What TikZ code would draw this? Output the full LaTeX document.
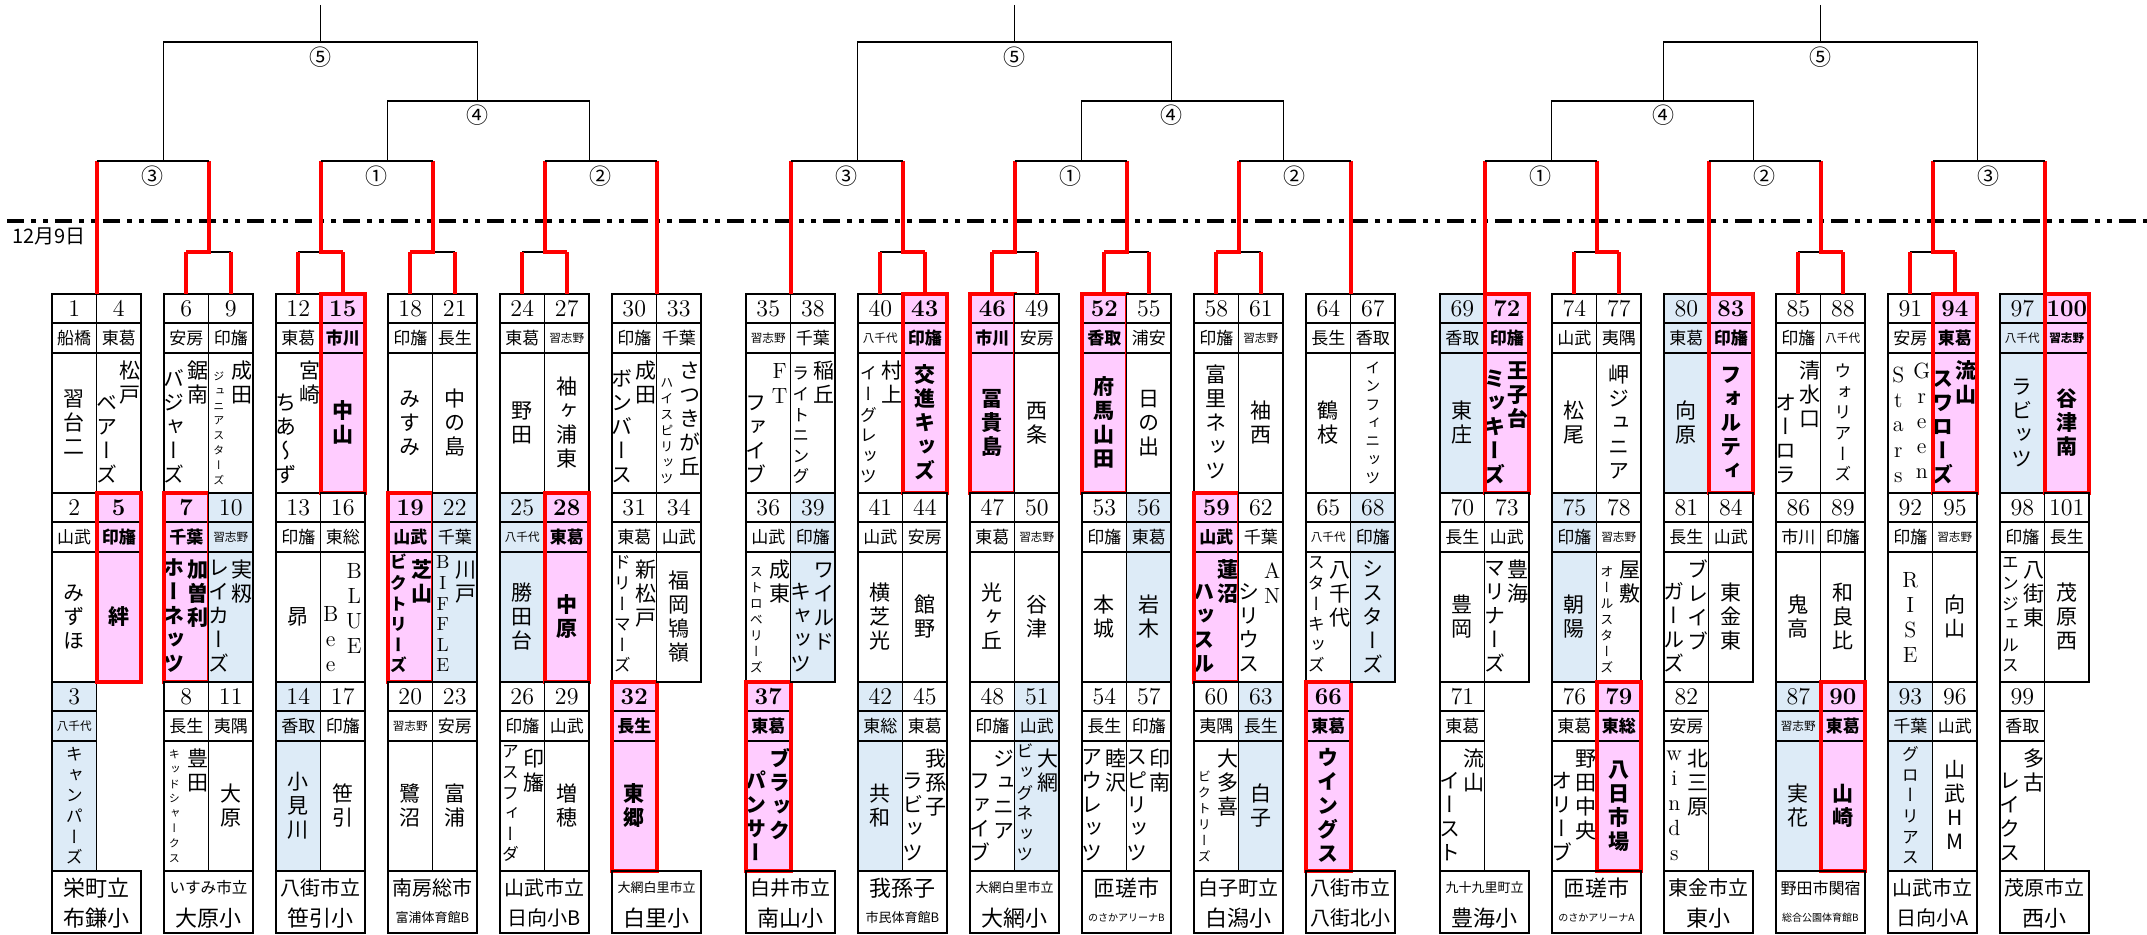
\documentclass[tikz,border=0pt]{standalone}
\usepackage{fontspec}
\usepackage{tikz}
\usetikzlibrary{positioning}
\newfontfamily\cjk{Noto Sans CJK JP}
\newfontfamily\tatefont[RawFeature=+vert]{Noto Sans CJK JP}
\definecolor{pinkcell}{RGB}{255,204,255}
\definecolor{bluecell}{RGB}{221,235,247}

% vertical writing: one character per line
\newdimen\tatepitch
\def\tatebf{}
\def\tzN{\fontsize{10.5}{12}\tatefont\tatepitch=12pt}
\def\tzM{\fontsize{8.5}{10}\tatefont\tatepitch=10.3pt}
\def\tzR{\fontsize{7.5}{9}\tatefont\tatepitch=9.2pt}
\def\tzS{\fontsize{6.5}{8}\tatefont\tatepitch=8pt}
\def\tzT{\fontsize{5.5}{7}\tatefont\tatepitch=7.4pt}
\def\tzL{\fontsize{11}{12}\rmfamily\tatepitch=12.5pt}
\def\tzK{\fontsize{9.5}{10}\rmfamily\tatepitch=10.3pt}
\def\tateaux#1{\ifx\relax#1\else
  \hbox to 1em{\vrule width 0pt height .8\tatepitch depth .2\tatepitch\hss\smash{#1}\hss}%
  \expandafter\tateaux\fi}
\newcommand\tate[2]{\vbox{\csname tz#1\endcsname\tatebf\offinterlineskip\tateaux#2\relax}}

% league columns
\newcommand\setcol[1]{\def\coll{#1}\pgfmathsetmacro\colr{#1+44.5}}
\newcommand\smreg[1]{{\fontsize{5.8}{6}\selectfont #1}}
\newcommand\team[6]{%
  \edef\teamx{\csname col#1\endcsname}%
  \def\cur{#3}%
  \ifcase#2\or\def\teamy{294}\def\teamh{70pt}\or\def\teamy{493}\def\teamh{65pt}\else\def\teamy{682}\def\teamh{65pt}\fi
  \if p#6\def\tatebf{\bfseries}\else\def\tatebf{}\fi
  \node[numcell, cell#6] (n#3) at (\teamx,\teamy) {#3};
  \node[regcell, cell#6, below=0pt of n#3] (r#3) {#4};
  \node[namecell, cell#6, minimum height=\teamh, below=0pt of r#3] (nm#3) {};
  #5%
  \if p#6\draw[winbox] (n#3.north west) rectangle (nm#3.south east);\fi
}
\newcommand\onecol[2]{\node[tt] (a\cur) at (nm\cur.center) {\tate{#1}{#2}};}
\newcommand\twocol[4]{%
  \node[tt, anchor=north] (a\cur) at ([xshift=5.75pt, yshift=-3pt]nm\cur.north) {\tate{#1}{#2}};
  \node[tt, anchor=south] (b\cur) at ([xshift=-6pt, yshift=3pt]nm\cur.south) {\tate{#3}{#4}};}
\newcommand\venue[5]{%
  \node[venuecell] (v#1) at (\coll,871) {};
  \node[vtext, font=\cjk\fontsize{#2}{#2}\selectfont] (v#1a) at ([yshift=-8.5pt]v#1.north) {#3};
  \node[vtext, font=\cjk\fontsize{#4}{#4}\selectfont] (v#1b) at ([yshift=-23.5pt]v#1.north) {#5};}

% bracket pieces
\newcommand\solo[1]{\draw[redleg] (n#1.north east) -- (n#1.north east |- lvA);}
\newcommand\duo[3]{%
  \draw[brk] (n#1.north |- lvB) -- (n#2.north |- lvB);
  \draw[redleg] (n#1.north) -- (n#1.north |- lvB);
  \draw[redleg] (n#2.north) -- (n#2.north |- lvB);
  \draw[redleg] (n#3.north |- lvB) -- (n#1.north east |- lvB) -- (n#1.north east |- lvA);}
\newcommand\rnd[2]{\draw[brk] (n#1.north east |- lvA) -- (n#2.north east |- lvA);}

\begin{document}
\begin{tikzpicture}[x=0.5pt, y=-0.5pt,
    numcell/.style={draw, line width=0.7pt, minimum width=22.25pt, minimum height=14.5pt, inner sep=0pt, outer sep=0pt, anchor=north west, font=\fontsize{12}{12}\selectfont},
    regcell/.style={draw, line width=0.7pt, minimum width=22.25pt, minimum height=15pt, inner sep=0pt, outer sep=0pt, font=\cjk\fontsize{8.5}{9}\selectfont},
    namecell/.style={draw, line width=0.7pt, minimum width=22.25pt, inner sep=0pt, outer sep=0pt},
    cellw/.style={fill=white},
    cellb/.style={fill=bluecell},
    cellp/.style={fill=pinkcell, execute at begin node=\bfseries},
    tt/.style={inner sep=0pt, outer sep=0pt},
    winbox/.style={draw=red, line width=2pt},
    redleg/.style={draw=red, line width=2pt},
    brk/.style={draw=black, line width=0.8pt},
    circ/.style={inner sep=0pt, font=\cjk\fontsize{11}{11}\selectfont},
    venuecell/.style={draw, line width=0.7pt, minimum width=44.5pt, minimum height=31pt, inner sep=0pt, outer sep=0pt, anchor=north west},
    vtext/.style={inner sep=0pt},
    dashline/.style={line width=2pt, dash pattern=on 8.5pt off 3.5pt on 2.5pt off 3.5pt on 2.5pt off 3.5pt},
    datelbl/.style={inner sep=0pt, font=\cjk\fontsize{10}{10}\selectfont}
  ]
  \path[fill=white, use as bounding box] (0,0) rectangle (2147,935);

  % date line
  \coordinate (dl0) at (7,221);
  \coordinate (dl1) at (2147,221);
  \draw[dashline] (dl0) -- (dl1);
  \node[datelbl, anchor=west] (date) at (12,236) {12月9日};

  % ---- block 1 ----
  \setcol{52}
  \team{l}{1}{1}{船橋}{\onecol{N}{習台二}}{w}
  \team{l}{2}{2}{山武}{\onecol{N}{みずほ}}{w}
  \team{l}{3}{3}{\smreg{八千代}}{\onecol{M}{キャンパーズ}}{b}
  \team{r}{1}{4}{東葛}{\twocol{N}{松戸}{N}{ベアーズ}}{w}
  \team{r}{2}{5}{印旛}{\onecol{N}{絆}}{p}
  \venue{1}{11}{栄町立}{11}{布鎌小}

  \setcol{164}
  \team{l}{1}{6}{安房}{\twocol{N}{鋸南}{N}{バジャーズ}}{w}
  \team{l}{2}{7}{千葉}{\twocol{N}{加曽利}{N}{ホーネッツ}}{p}
  \team{l}{3}{8}{長生}{\twocol{N}{豊田}{T}{キッドシャークス}}{w}
  \team{r}{1}{9}{印旛}{\twocol{N}{成田}{T}{ジュニアスターズ}}{w}
  \team{r}{2}{10}{\smreg{習志野}}{\twocol{N}{実籾}{N}{レイカーズ}}{b}
  \team{r}{3}{11}{夷隅}{\onecol{N}{大原}}{w}
  \venue{2}{7.8}{いすみ市立}{11}{大原小}

  \setcol{276}
  \team{l}{1}{12}{東葛}{\twocol{N}{宮崎}{N}{ちあ～ず}}{w}
  \team{l}{2}{13}{印旛}{\onecol{N}{昴}}{w}
  \team{l}{3}{14}{香取}{\onecol{N}{小見川}}{b}
  \team{r}{1}{15}{市川}{\onecol{N}{中山}}{p}
  \team{r}{2}{16}{東総}{\twocol{L}{BLUE}{L}{Bee}}{w}
  \team{r}{3}{17}{印旛}{\onecol{N}{笹引}}{w}
  \venue{3}{10}{八街市立}{11}{笹引小}

  \setcol{388}
  \team{l}{1}{18}{印旛}{\onecol{N}{みすみ}}{w}
  \team{l}{2}{19}{山武}{\twocol{N}{芝山}{M}{ビクトリーズ}}{p}
  \team{l}{3}{20}{\smreg{習志野}}{\onecol{N}{鷺沼}}{w}
  \team{r}{1}{21}{長生}{\onecol{N}{中の島}}{w}
  \team{r}{2}{22}{千葉}{\twocol{N}{川戸}{K}{BIFFLE}}{b}
  \team{r}{3}{23}{安房}{\onecol{N}{富浦}}{w}
  \venue{4}{10}{南房総市}{6.5}{富浦体育館B}

  \setcol{500}
  \team{l}{1}{24}{東葛}{\onecol{N}{野田}}{w}
  \team{l}{2}{25}{\smreg{八千代}}{\onecol{N}{勝田台}}{b}
  \team{l}{3}{26}{印旛}{\twocol{N}{印旛}{M}{アスフィーダ}}{w}
  \team{r}{1}{27}{\smreg{習志野}}{\onecol{N}{袖ヶ浦東}}{w}
  \team{r}{2}{28}{東葛}{\onecol{N}{中原}}{p}
  \team{r}{3}{29}{山武}{\onecol{N}{増穂}}{w}
  \venue{5}{10}{山武市立}{10}{日向小B}

  \setcol{612}
  \team{l}{1}{30}{印旛}{\twocol{N}{成田}{N}{ボンバース}}{w}
  \team{l}{2}{31}{東葛}{\twocol{N}{新松戸}{M}{ドリーマーズ}}{w}
  \team{l}{3}{32}{長生}{\onecol{N}{東郷}}{p}
  \team{r}{1}{33}{千葉}{\twocol{N}{さつきが丘}{S}{ハイスピリッツ}}{w}
  \team{r}{2}{34}{山武}{\onecol{N}{福岡鴇嶺}}{w}
  \venue{6}{6.5}{大網白里市立}{11}{白里小}

  % ---- block 2 ----
  \setcol{746}
  \team{l}{1}{35}{\smreg{習志野}}{\twocol{L}{FT}{N}{ファイブ}}{w}
  \team{l}{2}{36}{山武}{\twocol{N}{成東}{S}{ストロベリーズ}}{w}
  \team{l}{3}{37}{東葛}{\twocol{N}{ブラック}{N}{パンサー}}{p}
  \team{r}{1}{38}{千葉}{\twocol{N}{稲丘}{M}{ライトニング}}{w}
  \team{r}{2}{39}{印旛}{\twocol{N}{ワイルド}{N}{キャッツ}}{b}
  \venue{7}{10}{白井市立}{11}{南山小}

  \setcol{858}
  \team{l}{1}{40}{\smreg{八千代}}{\twocol{N}{村上}{M}{イーグレッツ}}{w}
  \team{l}{2}{41}{山武}{\onecol{N}{横芝光}}{w}
  \team{l}{3}{42}{東総}{\onecol{N}{共和}}{b}
  \team{r}{1}{43}{印旛}{\onecol{N}{交進キッズ}}{p}
  \team{r}{2}{44}{安房}{\onecol{N}{館野}}{w}
  \team{r}{3}{45}{東葛}{\twocol{N}{我孫子}{N}{ラビッツ}}{w}
  \venue{8}{11}{我孫子}{6.5}{市民体育館B}

  \setcol{970}
  \team{l}{1}{46}{市川}{\onecol{N}{冨貴島}}{p}
  \team{l}{2}{47}{東葛}{\onecol{N}{光ヶ丘}}{w}
  \team{l}{3}{48}{印旛}{\twocol{N}{ジュニア}{N}{ファイブ}}{w}
  \team{r}{1}{49}{安房}{\onecol{N}{西条}}{w}
  \team{r}{2}{50}{\smreg{習志野}}{\onecol{N}{谷津}}{w}
  \team{r}{3}{51}{山武}{\twocol{N}{大網}{M}{ビッグネッツ}}{b}
  \venue{9}{6.5}{大網白里市立}{11}{大網小}

  \setcol{1082}
  \team{l}{1}{52}{香取}{\onecol{N}{府馬山田}}{p}
  \team{l}{2}{53}{印旛}{\onecol{N}{本城}}{w}
  \team{l}{3}{54}{長生}{\twocol{N}{睦沢}{N}{アウレッツ}}{w}
  \team{r}{1}{55}{浦安}{\onecol{N}{日の出}}{w}
  \team{r}{2}{56}{東葛}{\onecol{N}{岩木}}{b}
  \team{r}{3}{57}{印旛}{\twocol{N}{印南}{N}{スピリッツ}}{w}
  \venue{10}{11}{匝瑳市}{5}{のさかアリーナB}

  \setcol{1194}
  \team{l}{1}{58}{印旛}{\onecol{N}{富里ネッツ}}{w}
  \team{l}{2}{59}{山武}{\twocol{N}{蓮沼}{N}{ハッスル}}{p}
  \team{l}{3}{60}{夷隅}{\twocol{N}{大多喜}{S}{ビクトリーズ}}{w}
  \team{r}{1}{61}{\smreg{習志野}}{\onecol{N}{袖西}}{w}
  \team{r}{2}{62}{千葉}{\twocol{L}{AN}{N}{シリウス}}{w}
  \team{r}{3}{63}{長生}{\onecol{N}{白子}}{b}
  \venue{11}{10}{白子町立}{11}{白潟小}

  \setcol{1306}
  \team{l}{1}{64}{長生}{\onecol{N}{鶴枝}}{w}
  \team{l}{2}{65}{\smreg{八千代}}{\twocol{N}{八千代}{M}{スターキッズ}}{w}
  \team{l}{3}{66}{東葛}{\onecol{N}{ウイングス}}{p}
  \team{r}{1}{67}{香取}{\onecol{R}{インフィニッツ}}{w}
  \team{r}{2}{68}{印旛}{\onecol{N}{シスターズ}}{b}
  \venue{12}{10}{八街市立}{10}{八街北小}

  % ---- block 3 ----
  \setcol{1440}
  \team{l}{1}{69}{香取}{\onecol{N}{東庄}}{b}
  \team{l}{2}{70}{長生}{\onecol{N}{豊岡}}{w}
  \team{l}{3}{71}{東葛}{\twocol{N}{流山}{N}{イースト}}{w}
  \team{r}{1}{72}{印旛}{\twocol{N}{王子台}{N}{ミッキーズ}}{p}
  \team{r}{2}{73}{山武}{\twocol{N}{豊海}{N}{マリナーズ}}{w}
  \venue{13}{6.5}{九十九里町立}{11}{豊海小}

  \setcol{1552}
  \team{l}{1}{74}{山武}{\onecol{N}{松尾}}{w}
  \team{l}{2}{75}{印旛}{\onecol{N}{朝陽}}{b}
  \team{l}{3}{76}{東葛}{\twocol{N}{野田中央}{N}{オリーブ}}{w}
  \team{r}{1}{77}{夷隅}{\onecol{N}{岬ジュニア}}{w}
  \team{r}{2}{78}{\smreg{習志野}}{\twocol{N}{屋敷}{S}{オールスターズ}}{w}
  \team{r}{3}{79}{東総}{\onecol{N}{八日市場}}{p}
  \venue{14}{11}{匝瑳市}{5}{のさかアリーナA}

  \setcol{1664}
  \team{l}{1}{80}{東葛}{\onecol{N}{向原}}{b}
  \team{l}{2}{81}{長生}{\twocol{N}{ブレイブ}{N}{ガールズ}}{w}
  \team{l}{3}{82}{安房}{\twocol{N}{北三原}{L}{winds}}{w}
  \team{r}{1}{83}{印旛}{\onecol{N}{フォルティ}}{p}
  \team{r}{2}{84}{山武}{\onecol{N}{東金東}}{w}
  \venue{15}{10}{東金市立}{11}{東小}

  \setcol{1776}
  \team{l}{1}{85}{印旛}{\twocol{N}{清水口}{N}{オーロラ}}{w}
  \team{l}{2}{86}{市川}{\onecol{N}{鬼高}}{w}
  \team{l}{3}{87}{\smreg{習志野}}{\onecol{N}{実花}}{b}
  \team{r}{1}{88}{\smreg{八千代}}{\onecol{M}{ウォリアーズ}}{w}
  \team{r}{2}{89}{印旛}{\onecol{N}{和良比}}{w}
  \team{r}{3}{90}{東葛}{\onecol{N}{山崎}}{p}
  \venue{16}{8}{野田市関宿}{5}{総合公園体育館B}

  \setcol{1888}
  \team{l}{1}{91}{安房}{\twocol{L}{Green}{L}{Stars}}{w}
  \team{l}{2}{92}{印旛}{\onecol{L}{RISE}}{w}
  \team{l}{3}{93}{千葉}{\onecol{M}{グローリアス}}{b}
  \team{r}{1}{94}{東葛}{\twocol{N}{流山}{N}{スワローズ}}{p}
  \team{r}{2}{95}{\smreg{習志野}}{\onecol{N}{向山}}{w}
  \team{r}{3}{96}{山武}{\onecol{N}{山武HM}}{w}
  \venue{17}{10}{山武市立}{10}{日向小A}

  \setcol{2000}
  \team{l}{1}{97}{\smreg{八千代}}{\onecol{N}{ラビッツ}}{b}
  \team{l}{2}{98}{印旛}{\twocol{N}{八街東}{M}{エンジェルス}}{w}
  \team{l}{3}{99}{香取}{\twocol{N}{多古}{N}{レイクス}}{w}
  \team{r}{1}{100}{\smreg{習志野}}{\onecol{N}{谷津南}}{p}
  \team{r}{2}{101}{長生}{\onecol{N}{茂原西}}{w}
  \venue{18}{10}{茂原市立}{11}{西小}

  % bracket levels
  \coordinate (lvT) at (0,5);
  \coordinate (lv5) at (0,42);
  \coordinate (lv4) at (0,101);
  \coordinate (lvA) at (0,161);
  \coordinate (lvB) at (0,252);

  % first round legs
  \solo{1}  \duo{6}{9}{6}    \duo{12}{15}{15} \duo{18}{21}{18}
  \duo{24}{27}{27} \solo{30}
  \solo{35} \duo{40}{43}{43} \duo{46}{49}{46} \duo{52}{55}{52}
  \duo{58}{61}{58} \solo{64}
  \solo{69} \duo{74}{77}{77} \solo{80} \duo{85}{88}{88}
  \duo{91}{94}{94} \solo{97}

  % first round brackets
  \rnd{1}{6}   \rnd{12}{18} \rnd{24}{30}
  \rnd{35}{40} \rnd{46}{52} \rnd{58}{64}
  \rnd{69}{74} \rnd{80}{85} \rnd{91}{97}
  \node[circ] (lb1c) at (152.5,176) {③};
  \node[circ] (lb1a) at (376.5,176) {①};
  \node[circ] (lb1b) at (600.5,176) {②};
  \node[circ] (lb2c) at (846.5,176) {③};
  \node[circ] (lb2a) at (1070.5,176) {①};
  \node[circ] (lb2b) at (1294.5,176) {②};
  \node[circ] (lb3a) at (1540.5,176) {①};
  \node[circ] (lb3b) at (1764.5,176) {②};
  \node[circ] (lb3c) at (1988.5,176) {③};

  % semi finals
  \coordinate (q1a) at (387.5,161);  \coordinate (q1b) at (589.5,161);
  \coordinate (q2a) at (1081.5,161); \coordinate (q2b) at (1283.5,161);
  \coordinate (q3a) at (1551.5,161); \coordinate (q3b) at (1753.5,161);
  \draw[brk] (q1a) |- (q1b |- lv4) -- (q1b);
  \draw[brk] (q2a) |- (q2b |- lv4) -- (q2b);
  \draw[brk] (q3a) |- (q3b |- lv4) -- (q3b);
  \node[circ] (lb1d) at (477.5,115) {④};
  \node[circ] (lb2d) at (1171.5,115) {④};
  \node[circ] (lb3d) at (1663.5,115) {④};

  % finals
  \coordinate (p1a) at (163.5,161);  \coordinate (p1b) at (477.5,101);
  \coordinate (p2a) at (857.5,161);  \coordinate (p2b) at (1171.5,101);
  \coordinate (p3a) at (1663.5,101); \coordinate (p3b) at (1977.5,161);
  \draw[brk] (p1a) |- (p1b |- lv5) -- (p1b);
  \draw[brk] (p2a) |- (p2b |- lv5) -- (p2b);
  \draw[brk] (p3a) |- (p3b |- lv5) -- (p3b);
  \coordinate (t1) at (320.5,5);
  \coordinate (t2) at (1014.5,5);
  \coordinate (t3) at (1820.5,5);
  \draw[brk] (t1) -- (t1 |- lv5);
  \draw[brk] (t2) -- (t2 |- lv5);
  \draw[brk] (t3) -- (t3 |- lv5);
  \node[circ] (lb1e) at (320.5,57) {⑤};
  \node[circ] (lb2e) at (1014.5,57) {⑤};
  \node[circ] (lb3e) at (1820.5,57) {⑤};
\end{tikzpicture}
\end{document}
